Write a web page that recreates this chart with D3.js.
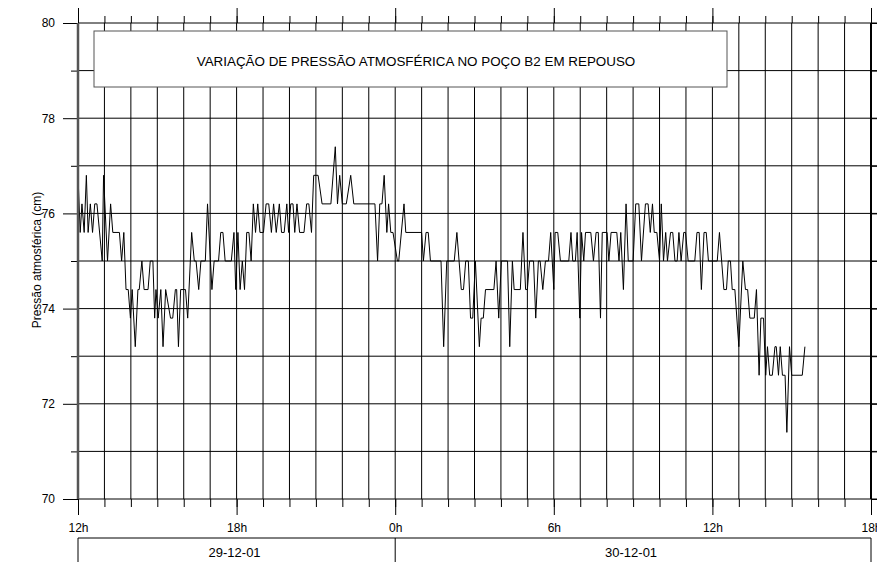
<!DOCTYPE html>
<html>
<head>
<meta charset="utf-8">
<script src="https://cdn.jsdelivr.net/npm/d3@7"></script>
<style>
  body { margin: 0; background: #fff; }
  svg { display: block; font-family: Arial, "Liberation Sans", sans-serif; }
</style>
</head>
<body>
<svg id="chart" width="877" height="562"></svg>
<script>
'use strict';

/* global d3 */
var titleText = 'VARIAÇÃO DE PRESSÃO ATMOSFÉRICA NO POÇO B2 EM REPOUSO';
var yTitle = 'Pressão atmosférica (cm)';

var startTime = new Date(2001, 11, 29, 12, 0);
var endTime = new Date(2001, 11, 30, 18, 0);
var dayLabels = ['29-12-01', '30-12-01'];
var dayBreaks = [new Date(2001, 11, 29, 12), new Date(2001, 11, 30, 0), new Date(2001, 11, 30, 18)];

var yGrid = [70, 71, 72, 73, 74, 75, 76, 77, 78, 79, 80];
var yLabels = [70, 72, 74, 76, 78, 80];
var yMinor = [71, 73, 75, 77, 79];

// minutes after 29-12-01 12h
var minutes = [
    0, 5, 9, 14, 19, 23, 28, 33, 38, 43, 55, 58, 67, 74, 79, 94, 99, 104, 109, 114,
    119, 123, 130, 136, 139, 145, 150, 159, 164, 170, 174, 177, 182, 188, 193, 199, 210, 215, 221, 224,
    228, 233, 244, 249, 258, 264, 268, 274, 279, 289, 294, 304, 309, 319, 324, 329, 334, 348, 354, 358,
    363, 368, 373, 378, 383, 388, 393, 398, 403, 408, 413,
    421, 427, 433, 439, 444, 450, 457, 462, 468, 474, 478, 483, 488, 492, 497, 503, 513, 519, 524, 530,
    535, 545, 554, 574, 584, 589, 594, 600, 609, 619, 626, 674, 680, 685, 690, 695, 701, 705, 710, 715,
    725, 728, 740, 744, 780, 784, 790, 795, 800, 824,
    830, 837, 854, 860, 870, 875, 880, 886, 891, 896, 902, 911, 915, 920, 925, 944, 949, 955, 961, 975,
    980, 986, 990, 1004, 1010, 1016, 1020, 1025, 1034, 1039, 1045, 1049, 1055, 1061, 1068, 1073, 1080, 1083, 1089, 1095,
    1114, 1119, 1123, 1129, 1133, 1139, 1143, 1148, 1152, 1164, 1170, 1176, 1181, 1186, 1190, 1201, 1205, 1210, 1223, 1228,
    1232, 1238,
    1244, 1249, 1260, 1266, 1273, 1279, 1288, 1294, 1299, 1304, 1308, 1314, 1320, 1324, 1329, 1334, 1338, 1345, 1350, 1355,
    1360, 1364, 1369, 1375, 1379, 1385, 1400, 1405, 1410, 1415, 1421, 1426, 1431, 1451, 1456, 1461, 1466, 1472, 1476, 1481,
    1485, 1491, 1500, 1509, 1515, 1520, 1525, 1535, 1540, 1546, 1550, 1556, 1561, 1565, 1570, 1576, 1582, 1585, 1590, 1594,
    1599, 1605, 1609, 1615, 1620, 1644, 1650
];

var pressure = [
    76.8, 75.6, 76.2, 75.6, 76.8, 75.6, 76.2, 75.6, 76.2, 76.2, 75.0, 76.8, 75.0, 76.2, 75.6, 75.6, 75.0, 75.6, 74.4, 74.4,
    73.8, 74.4, 73.2, 74.4, 74.4, 75.0, 74.4, 74.4, 75.0, 75.0, 73.8, 74.4, 73.8, 74.4, 73.2, 74.4, 73.8, 73.8, 74.4, 74.4,
    73.2, 74.4, 74.4, 73.8, 75.6, 75.0, 75.0, 74.4, 75.0, 75.0, 76.2, 74.4, 75.0, 75.0, 75.6, 75.6, 75.0, 75.0, 75.6, 74.4,
    75.6, 74.4, 75.0, 74.4, 75.6, 75.6, 75.0, 76.2, 75.6, 76.2, 75.6,
    75.6, 76.2, 76.2, 75.6, 76.2, 75.6, 76.2, 75.6, 75.6, 76.2, 75.6, 76.2, 76.2, 75.6, 76.2, 75.6, 75.6, 76.2, 76.2, 75.6,
    76.8, 76.8, 76.2, 76.2, 77.4, 76.2, 76.8, 76.2, 76.2, 76.8, 76.2, 76.2, 75.0, 76.2, 76.2, 76.8, 75.6, 76.2, 75.6, 75.6,
    75.0, 75.0, 76.2, 75.6, 75.6, 75.0, 75.6, 75.6, 75.0, 75.0,
    73.2, 75.0, 75.0, 75.6, 74.4, 74.4, 75.0, 75.0, 73.8, 73.8, 75.0, 73.2, 73.8, 73.8, 74.4, 74.4, 75.0, 73.8, 75.0, 75.0,
    73.2, 75.0, 74.4, 74.4, 75.6, 74.4, 74.4, 75.0, 75.0, 73.8, 75.0, 75.0, 74.4, 75.0, 75.0, 75.6, 74.4, 75.6, 75.6, 75.0,
    75.0, 75.6, 75.0, 75.0, 75.6, 73.8, 75.6, 75.0, 75.6, 75.6, 75.0, 75.6, 75.6, 73.8, 75.6, 75.6, 75.0, 75.6, 75.6, 75.0,
    75.6, 74.4,
    76.2, 75.0, 75.0, 76.2, 76.2, 75.0, 76.2, 76.2, 75.6, 76.2, 75.6, 75.6, 75.0, 76.2, 75.0, 75.6, 75.0, 75.6, 75.6, 75.0,
    75.0, 75.6, 75.0, 75.6, 75.6, 75.0, 75.0, 75.6, 75.6, 74.4, 75.6, 75.6, 75.0, 75.0, 75.6, 75.0, 74.4, 74.4, 75.0, 75.0,
    74.4, 74.4, 73.2, 75.0, 74.4, 74.4, 73.8, 73.8, 74.4, 72.6, 73.8, 73.8, 72.6, 73.2, 72.6, 72.6, 73.2, 73.2, 72.6, 73.2,
    72.6, 72.6, 71.4, 73.2, 72.6, 72.6, 73.2
];

var margin = { left: 78, right: 871, top: 23, bottom: 499 };
var svg = d3.select('#chart');

var x = d3.scaleTime().domain([startTime, endTime]).range([margin.left, margin.right]);
var y = d3.scaleLinear().domain([70, 80]).range([margin.bottom, margin.top]);

var hours = x.ticks(d3.timeHour.every(1));
var series = minutes.map(function (m, i) {
    return { t: d3.timeMinute.offset(startTime, m), p: pressure[i] };
});

// grid
var grid = svg.append('g').attr('stroke', '#000').attr('stroke-width', 1);
grid.selectAll('.h').data(yGrid).join('line')
    .attr('x1', margin.left).attr('x2', 877)
    .attr('y1', function (d) { return y(d); })
    .attr('y2', function (d) { return y(d); });
grid.selectAll('.v').data(hours).join('line')
    .attr('x1', function (d) { return x(d); })
    .attr('x2', function (d) { return x(d); })
    .attr('y1', margin.top).attr('y2', margin.bottom);

// series
var line = d3.line()
    .x(function (d) { return x(d.t); })
    .y(function (d) { return y(d.p); });
svg.append('path').datum(series)
    .attr('fill', 'none').attr('stroke', '#000').attr('stroke-width', 1)
    .attr('stroke-linejoin', 'miter')
    .attr('d', line);

// title box
svg.append('rect')
    .attr('x', 94).attr('y', 31).attr('width', 633).attr('height', 56)
    .attr('fill', '#fff').attr('stroke', '#555').attr('stroke-width', 1);
svg.append('text')
    .attr('x', 416).attr('y', 62)
    .attr('text-anchor', 'middle').attr('dominant-baseline', 'middle')
    .attr('font-size', 13.4).text(titleText);

function styleAxis(g) {
    g.select('.domain').remove();
    g.selectAll('.tick line').attr('stroke', '#000');
    g.selectAll('.tick text').attr('fill', '#000')
        .attr('font-size', 12).attr('font-family', 'Arial, "Liberation Sans", sans-serif');
}

// top ticks
svg.append('g').attr('transform', 'translate(0,' + margin.top + ')')
    .call(d3.axisTop(x).ticks(d3.timeHour.every(1)).tickSize(7).tickFormat(''))
    .call(styleAxis);
svg.append('g').attr('transform', 'translate(0,' + margin.top + ')')
    .call(d3.axisTop(x).ticks(d3.timeHour.every(6)).tickSize(15).tickFormat(''))
    .call(styleAxis);

// bottom ticks + labels
svg.append('g').attr('transform', 'translate(0,' + margin.bottom + ')')
    .call(d3.axisBottom(x).ticks(d3.timeHour.every(1)).tickSize(8).tickFormat(''))
    .call(styleAxis);
svg.append('g').attr('transform', 'translate(0,' + margin.bottom + ')')
    .call(d3.axisBottom(x).ticks(d3.timeHour.every(6)).tickSize(16)
        .tickFormat(function (d) { return d.getHours() + 'h'; }))
    .call(styleAxis)
    .call(function (g) { g.selectAll('.tick text').attr('y', 24); });

// left ticks + labels
svg.append('g').attr('transform', 'translate(' + margin.left + ',0)')
    .call(d3.axisLeft(y).tickValues(yMinor).tickSize(7).tickFormat(''))
    .call(styleAxis);
svg.append('g').attr('transform', 'translate(' + margin.left + ',0)')
    .call(d3.axisLeft(y).tickValues(yLabels).tickSize(15).tickPadding(8).tickFormat(d3.format('d')))
    .call(styleAxis);

// right ticks
svg.append('g').attr('transform', 'translate(' + margin.right + ',0)')
    .call(d3.axisRight(y).tickValues(yGrid).tickSize(6).tickFormat(''))
    .call(styleAxis);

// axis frames
svg.append('line')
    .attr('x1', margin.left).attr('x2', margin.left)
    .attr('y1', margin.top).attr('y2', margin.bottom)
    .attr('stroke', '#555').attr('stroke-width', 2.5);
svg.append('line')
    .attr('x1', margin.right).attr('x2', margin.right)
    .attr('y1', margin.top).attr('y2', margin.bottom)
    .attr('stroke', '#000').attr('stroke-width', 2);

// y title
svg.append('text')
    .attr('transform', 'translate(37,260) rotate(-90)')
    .attr('text-anchor', 'middle').attr('dy', '0.35em')
    .attr('font-size', 12).text(yTitle);

// day boxes
var dayY = 538;
svg.append('line')
    .attr('x1', x(dayBreaks[0])).attr('x2', x(dayBreaks[2]))
    .attr('y1', dayY).attr('y2', dayY)
    .attr('stroke', '#000');
svg.selectAll('.daysep').data(dayBreaks).join('line')
    .attr('x1', function (d) { return x(d); })
    .attr('x2', function (d) { return x(d); })
    .attr('y1', dayY).attr('y2', 562)
    .attr('stroke', '#000');
svg.selectAll('.daylabel').data(dayLabels).join('text')
    .attr('x', function (d, i) { return (x(dayBreaks[i]) + x(dayBreaks[i + 1])) / 2 - 2; })
    .attr('y', 552)
    .attr('dy', '0.35em')
    .attr('text-anchor', 'middle').attr('font-size', 13)
    .text(function (d) { return d; });
</script>
</body>
</html>
